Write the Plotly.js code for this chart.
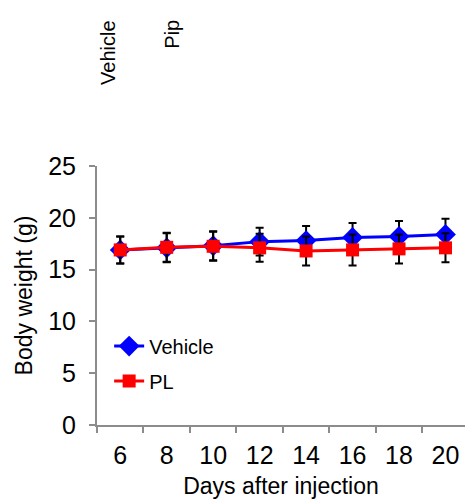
<!DOCTYPE html>
<html>
<head>
<meta charset="utf-8">
<script src="https://cdn.plot.ly/plotly-3.0.1.min.js"></script>
<style>html,body{margin:0;padding:0;background:#fff;}#chart{width:465px;height:502px;}</style>
</head>
<body>
<div id="chart"></div>
<script>
const days = ['6', '8', '10', '12', '14', '16', '18', '20'];
const vehicleMean = [16.9, 17.1, 17.3, 17.7, 17.8, 18.1, 18.2, 18.4];
const vehicleErr  = [1.3, 1.4, 1.4, 1.35, 1.4, 1.4, 1.5, 1.5];
const plMean = [16.9, 17.15, 17.25, 17.1, 16.8, 16.9, 17.0, 17.1];
const plErr  = [1.3, 1.4, 1.4, 1.35, 1.4, 1.5, 1.4, 1.4];
const groupLabels = ['Vehicle', 'Pip'];

const font = 'Arial, "Liberation Sans", sans-serif';

const traces = [
  {
    x: days, y: vehicleMean, name: 'Vehicle', type: 'scatter', mode: 'lines+markers',
    legendgroup: 'a',
    line: {color: '#0000ff', width: 3},
    marker: {symbol: 'diamond', size: 16, color: '#0000ff'},
    error_y: {type: 'data', array: vehicleErr, visible: true, color: '#000000', thickness: 2, width: 4}
  },
  {
    x: days, y: plMean, name: 'PL', type: 'scatter', mode: 'lines+markers',
    legendgroup: 'b',
    line: {color: '#ff0000', width: 3},
    marker: {symbol: 'square', size: 13, color: '#ff0000'},
    error_y: {type: 'data', array: plErr, visible: true, color: '#000000', thickness: 2, width: 4}
  }
];

const layout = {
  width: 465, height: 502,
  margin: {l: 97, r: 0, t: 166, b: 77},
  paper_bgcolor: '#ffffff', plot_bgcolor: '#ffffff',
  font: {family: font, color: '#000000', size: 20},
  showlegend: true,
  legend: {x: 0.033, y: 0.38, xanchor: 'left', yanchor: 'top', bgcolor: 'rgba(0,0,0,0)',
           font: {size: 20, family: font}, tracegroupgap: 6, traceorder: 'grouped'},
  xaxis: {
    type: 'category', range: [-0.5, 7.42], tickson: 'boundaries',
    showline: true, linecolor: '#8c8c8c', linewidth: 2,
    ticks: 'outside', ticklen: 6, tickwidth: 2, tickcolor: '#8c8c8c',
    showgrid: false, zeroline: false, ticklabelstandoff: 7,
    tickfont: {size: 25, family: font},
    title: {text: 'Days after injection', font: {size: 23, family: font}, standoff: 10}
  },
  yaxis: {
    range: [0, 25], tickvals: [0, 5, 10, 15, 20, 25],
    showline: true, linecolor: '#8c8c8c', linewidth: 2,
    ticks: 'outside', ticklen: 6, tickwidth: 2, tickcolor: '#8c8c8c',
    showgrid: false, zeroline: false, ticklabelstandoff: 8,
    tickfont: {size: 25, family: font},
    title: {text: 'Body weight (g)', font: {size: 23, family: font}, standoff: 9}
  },
  annotations: [
    {text: groupLabels[0], xref: 'paper', yref: 'paper', x: 0.028, y: 1.571, xanchor: 'center', yanchor: 'top',
     textangle: -90, showarrow: false, font: {size: 20, family: font}},
    {text: groupLabels[1], xref: 'paper', yref: 'paper', x: 0.204, y: 1.571, xanchor: 'center', yanchor: 'top',
     textangle: -90, showarrow: false, font: {size: 20, family: font}}
  ]
};

Plotly.newPlot('chart', traces, layout, {displayModeBar: false, staticPlot: true});
</script>
</body>
</html>
